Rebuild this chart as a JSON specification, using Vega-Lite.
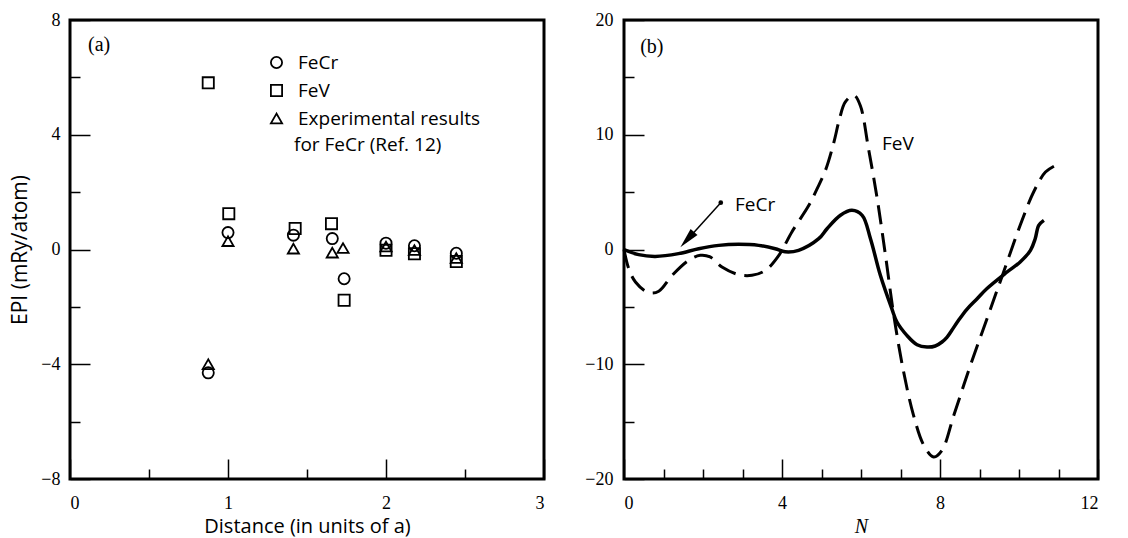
{
  "$schema": "https://vega.github.io/schema/vega-lite/v6.json",
  "background": "white",
  "padding": {"left": 8, "top": 9, "right": 5, "bottom": 0},
  "spacing": 36,
  "config": {
    "view": {"stroke": "black", "strokeWidth": 3},
    "axis": {
      "domain": false, "grid": false,
      "tickColor": "black", "tickWidth": 1.5,
      "labelFont": "Liberation Serif", "labelFontSize": 18, "labelColor": "black",
      "titleFont": "Open Sans", "titleFontSize": 20, "titleFontWeight": "normal", "titleColor": "black"
    },
    "text": {"color": "black"}
  },
  "datasets": {
    "epi": [
      {"d": 0.875, "epi": -4.3, "series": "FeCr"},
      {"d": 1.0, "epi": 0.59, "series": "FeCr"},
      {"d": 1.414, "epi": 0.5, "series": "FeCr"},
      {"d": 1.66, "epi": 0.38, "series": "FeCr"},
      {"d": 1.735, "epi": -1.02, "series": "FeCr"},
      {"d": 2.0, "epi": 0.22, "series": "FeCr"},
      {"d": 2.18, "epi": 0.13, "series": "FeCr"},
      {"d": 2.445, "epi": -0.13, "series": "FeCr"},
      {"d": 0.875, "epi": 5.81, "series": "FeV"},
      {"d": 1.005, "epi": 1.25, "series": "FeV"},
      {"d": 1.425, "epi": 0.73, "series": "FeV"},
      {"d": 1.655, "epi": 0.9, "series": "FeV"},
      {"d": 1.735, "epi": -1.77, "series": "FeV"},
      {"d": 2.0, "epi": -0.03, "series": "FeV"},
      {"d": 2.18, "epi": -0.15, "series": "FeV"},
      {"d": 2.445, "epi": -0.42, "series": "FeV"},
      {"d": 0.875, "epi": -4.0, "series": "Experimental results"},
      {"d": 1.0, "epi": 0.29, "series": "Experimental results"},
      {"d": 1.414, "epi": 0.03, "series": "Experimental results"},
      {"d": 1.66, "epi": -0.11, "series": "Experimental results"},
      {"d": 1.728, "epi": 0.05, "series": "Experimental results"},
      {"d": 2.0, "epi": 0.1, "series": "Experimental results"},
      {"d": 2.18, "epi": -0.02, "series": "Experimental results"},
      {"d": 2.445, "epi": -0.3, "series": "Experimental results"}
    ],
    "fecr": [
      {"N": 0, "v": 0}, {"N": 0.37, "v": -0.45}, {"N": 0.79, "v": -0.6}, {"N": 1.38, "v": -0.36},
      {"N": 1.89, "v": 0.07}, {"N": 2.4, "v": 0.36}, {"N": 2.9, "v": 0.45}, {"N": 3.41, "v": 0.36},
      {"N": 3.83, "v": 0.07}, {"N": 4.08, "v": -0.2}, {"N": 4.42, "v": -0.07}, {"N": 4.93, "v": 0.94},
      {"N": 5.14, "v": 1.81}, {"N": 5.48, "v": 2.98}, {"N": 5.77, "v": 3.41}, {"N": 6.03, "v": 2.98},
      {"N": 6.24, "v": 0.94}, {"N": 6.49, "v": -2.25}, {"N": 6.78, "v": -5.16}, {"N": 6.91, "v": -6.32},
      {"N": 7.16, "v": -7.48}, {"N": 7.42, "v": -8.3}, {"N": 7.67, "v": -8.5}, {"N": 7.88, "v": -8.41},
      {"N": 8.05, "v": -8.06}, {"N": 8.18, "v": -7.63}, {"N": 8.3, "v": -7.04}, {"N": 8.47, "v": -6.17},
      {"N": 8.68, "v": -5.21}, {"N": 8.94, "v": -4.29}, {"N": 9.19, "v": -3.4}, {"N": 9.7, "v": -1.96},
      {"N": 10.03, "v": -1.09}, {"N": 10.29, "v": -0.07}, {"N": 10.41, "v": 0.94}, {"N": 10.5, "v": 2.11},
      {"N": 10.63, "v": 2.54}
    ],
    "fev": [
      {"N": 0, "v": 0}, {"N": 0.12, "v": -1.67}, {"N": 0.29, "v": -2.83}, {"N": 0.62, "v": -3.76},
      {"N": 0.88, "v": -3.64}, {"N": 1.22, "v": -2.25}, {"N": 1.64, "v": -0.94}, {"N": 1.93, "v": -0.51},
      {"N": 2.18, "v": -0.65}, {"N": 2.48, "v": -1.53}, {"N": 2.9, "v": -2.19}, {"N": 3.24, "v": -2.25},
      {"N": 3.58, "v": -1.82}, {"N": 3.92, "v": -0.51}, {"N": 4.25, "v": 1.53}, {"N": 4.68, "v": 3.85},
      {"N": 4.89, "v": 5.3}, {"N": 5.1, "v": 6.9}, {"N": 5.31, "v": 9.3}, {"N": 5.45, "v": 11.3},
      {"N": 5.6, "v": 12.85}, {"N": 5.82, "v": 13.44},
      {"N": 5.98, "v": 12.57}, {"N": 6.19, "v": 8.79}, {"N": 6.41, "v": 4.43}, {"N": 6.62, "v": -0.51},
      {"N": 6.83, "v": -5.74}, {"N": 7.08, "v": -10.68}, {"N": 7.33, "v": -14.45}, {"N": 7.59, "v": -17.06},
      {"N": 7.84, "v": -18.08}, {"N": 8.05, "v": -17.5}, {"N": 8.35, "v": -14.45}, {"N": 8.77, "v": -10.09},
      {"N": 9.19, "v": -6.03}, {"N": 9.61, "v": -1.96}, {"N": 10.03, "v": 2.11}, {"N": 10.37, "v": 5.01},
      {"N": 10.67, "v": 6.75}, {"N": 10.93, "v": 7.34}
    ],
    "arrow": [
      {"N": 2.45, "v": 4.08},
      {"N": 1.55, "v": 0.65}
    ],
    "one": [{}]
  },
  "hconcat": [
    {
      "width": 474,
      "height": 459,
      "layer": [
        {
          "data": {"name": "epi"},
          "mark": {"type": "point", "filled": false, "stroke": "black", "strokeWidth": 1.8, "size": 125, "opacity": 1},
          "encoding": {
            "x": {"field": "d", "type": "quantitative",
                  "scale": {"domain": [0, 3], "nice": false, "zero": false},
                  "axis": {"orient": "bottom", "values": [0, 1, 2, 3], "tickSize": -20, "labelPadding": 35,
                           "title": "Distance (in units of a)", "titlePadding": 4}},
            "y": {"field": "epi", "type": "quantitative",
                  "scale": {"domain": [-8, 8], "nice": false, "zero": false},
                  "axis": {"orient": "left", "values": [-8, -4, 0, 4, 8], "tickSize": -20, "labelPadding": 30,
                           "title": "EPI (mRy/atom)", "titleFontSize": 21, "titlePadding": 10}},
            "shape": {"field": "series", "type": "nominal",
                      "scale": {"domain": ["FeCr", "FeV", "Experimental results"], "range": ["circle", "square", "triangle-up"]},
                      "legend": {"orient": "none", "legendX": 197, "legendY": 33, "title": null,
                                 "labelFont": "Open Sans", "labelFontSize": 19, "labelColor": "black", "labelLimit": 400,
                                 "labelOffset": 12, "rowPadding": 8, "symbolSize": 125, "symbolOpacity": 1,
                                 "symbolStrokeColor": "black", "symbolStrokeWidth": 1.8}}
          }
        },
        {
          "data": {"name": "epi"},
          "mark": {"type": "point", "opacity": 0},
          "encoding": {
            "x": {"field": "d", "type": "quantitative",
                  "scale": {"domain": [0, 3], "nice": false, "zero": false},
                  "axis": {"orient": "bottom", "values": [0.5, 1.5, 2.5], "tickSize": -10, "labels": false, "title": null}},
            "y": {"field": "epi", "type": "quantitative",
                  "scale": {"domain": [-8, 8], "nice": false, "zero": false},
                  "axis": {"orient": "left", "values": [-6, -2, 2, 6], "tickSize": -10, "labels": false, "title": null}}
          }
        },
        {
          "data": {"name": "one"},
          "mark": {"type": "text", "font": "Liberation Serif", "fontSize": 20, "align": "left", "baseline": "middle"},
          "encoding": {
            "x": {"datum": 0.114, "type": "quantitative", "axis": null},
            "y": {"datum": 7.13, "type": "quantitative", "axis": null},
            "text": {"value": "(a)"}
          }
        },
        {
          "data": {"name": "one"},
          "mark": {"type": "text", "font": "Open Sans", "fontSize": 19, "align": "left", "baseline": "middle"},
          "encoding": {
            "x": {"datum": 1.418, "type": "quantitative", "axis": null},
            "y": {"datum": 3.66, "type": "quantitative", "axis": null},
            "text": {"value": "for FeCr (Ref. 12)"}
          }
        }
      ],
      "resolve": {"axis": {"x": "independent", "y": "independent"}}
    },
    {
      "width": 474,
      "height": 459,
      "layer": [
        {
          "data": {"name": "fev"},
          "mark": {"type": "line", "color": "black", "strokeWidth": 3, "strokeDash": [19, 9], "interpolate": "catmull-rom"},
          "encoding": {
            "x": {"field": "N", "type": "quantitative",
                  "scale": {"domain": [0, 12], "nice": false, "zero": false},
                  "axis": {"orient": "bottom", "values": [0, 4, 8, 12], "tickSize": -20, "labelPadding": 35,
                           "title": "N", "titleFont": "Liberation Serif", "titleFontStyle": "italic", "titlePadding": 4}},
            "y": {"field": "v", "type": "quantitative",
                  "scale": {"domain": [-20, 20], "nice": false, "zero": false},
                  "axis": {"orient": "left", "values": [-20, -10, 0, 10, 20], "tickSize": -20, "labelPadding": 31, "title": null}}
          }
        },
        {
          "data": {"name": "fecr"},
          "mark": {"type": "line", "color": "black", "strokeWidth": 3.5, "interpolate": "catmull-rom"},
          "encoding": {
            "x": {"field": "N", "type": "quantitative",
                  "scale": {"domain": [0, 12], "nice": false, "zero": false},
                  "axis": {"orient": "bottom", "values": [1, 2, 3, 5, 6, 7, 9, 10, 11], "tickSize": -10, "labels": false, "title": null}},
            "y": {"field": "v", "type": "quantitative",
                  "scale": {"domain": [-20, 20], "nice": false, "zero": false},
                  "axis": {"orient": "left", "values": [-15, -5, 5, 15], "tickSize": -10, "labels": false, "title": null}}
          }
        },
        {
          "data": {"name": "arrow"},
          "mark": {"type": "line", "color": "black", "strokeWidth": 1.5},
          "encoding": {
            "x": {"field": "N", "type": "quantitative", "axis": null},
            "y": {"field": "v", "type": "quantitative", "axis": null}
          }
        },
        {
          "data": {"name": "one"},
          "mark": {"type": "point", "filled": true, "color": "black", "size": 22, "opacity": 1},
          "encoding": {
            "x": {"datum": 2.45, "type": "quantitative", "axis": null},
            "y": {"datum": 4.08, "type": "quantitative", "axis": null}
          }
        },
        {
          "data": {"name": "one"},
          "mark": {"type": "point", "filled": true, "color": "black", "opacity": 1},
          "encoding": {
            "x": {"datum": 1.6, "type": "quantitative", "axis": null},
            "y": {"datum": 0.86, "type": "quantitative", "axis": null},
            "shape": {"value": "M0,-1L0.45,1L-0.45,1Z"},
            "size": {"value": 420},
            "angle": {"value": 222}
          }
        },
        {
          "data": {"name": "one"},
          "mark": {"type": "text", "font": "Liberation Serif", "fontSize": 20, "align": "left", "baseline": "middle"},
          "encoding": {
            "x": {"datum": 0.41, "type": "quantitative", "axis": null},
            "y": {"datum": 17.65, "type": "quantitative", "axis": null},
            "text": {"value": "(b)"}
          }
        },
        {
          "data": {"name": "one"},
          "mark": {"type": "text", "font": "Open Sans", "fontSize": 19, "align": "left", "baseline": "middle"},
          "encoding": {
            "x": {"datum": 2.81, "type": "quantitative", "axis": null},
            "y": {"datum": 3.88, "type": "quantitative", "axis": null},
            "text": {"value": "FeCr"}
          }
        },
        {
          "data": {"name": "one"},
          "mark": {"type": "text", "font": "Open Sans", "fontSize": 19, "align": "left", "baseline": "middle"},
          "encoding": {
            "x": {"datum": 6.53, "type": "quantitative", "axis": null},
            "y": {"datum": 9.22, "type": "quantitative", "axis": null},
            "text": {"value": "FeV"}
          }
        }
      ],
      "resolve": {"axis": {"x": "independent", "y": "independent"}}
    }
  ]
}
